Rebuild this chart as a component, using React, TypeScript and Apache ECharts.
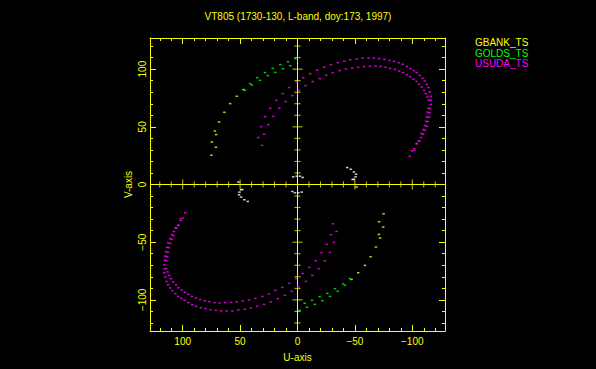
import React, { useEffect, useRef } from "react";
import * as echarts from "echarts";

const TITLE = "VT805 (1730-130, L-band, doy:173, 1997)";
const X_NAME = "U-axis";
const Y_NAME = "V-axis";
const U_MIN = -128.5;
const U_MAX = 128.5;
const V_MIN = -127;
const V_MAX = 127;
const MAJOR_TICKS = [-100, -50, 0, 50, 100];
const MINOR_TICKS = [-120, -110, -90, -80, -70, -60, -40, -30, -20, -10, 10, 20, 30, 40, 60, 70, 80, 90, 110, 120];

const LEGEND_NAMES = ["GBANK_TS", "GOLDS_TS", "USUDA_TS"];

// (u, v) samples in one half-plane; the conjugate points (-u, -v) are plotted too
const gbankUV: [number, number][] = [
  [47.1, 82.3], [52.9, 76.5], [58.7, 70.1], [63.7, 62.6], [68.3, 54.2],
  [72.0, 46.4], [70.9, 43.3], [74.6, 36.9], [71.1, 32.3], [75.0, 25.4],
];

const goldsUV: [number, number][] = [
  [45.7, 81.6], [41.3, 87.4], [39.8, 86.2], [35.0, 92.6], [32.6, 90.3],
  [28.3, 97.0], [25.9, 94.4], [21.6, 100.7], [19.3, 97.2], [15.0, 103.9],
  [12.6, 100.4], [8.3, 106.5], [6.3, 103.0], [1.9, 109.1],
];

const usudaOuterUV: [number, number][] = [
  [34.1, 40.7], [31.7, 50.2], [28.3, 58.9], [23.7, 66.1], [18.4, 73.0], [12.9, 78.8], [7.4, 84.0],
  [0.7, 88.6], [-5.0, 92.6], [-11.1, 96.1], [-17.2, 99.0], [-23.3, 101.8], [-29.1, 103.9],
  [-35.2, 105.6], [-40.7, 107.0], [-45.9, 108.2], [-51.5, 108.7], [-56.7, 109.6], [-61.9, 109.6],
  [-66.5, 109.6], [-71.1, 109.1], [-75.8, 108.5], [-80.2, 107.6], [-84.2, 106.8], [-88.3, 105.6],
  [-91.7, 104.2], [-95.2, 102.4], [-98.4, 100.4], [-101.3, 98.7], [-103.9, 97.0], [-106.5, 94.6],
  [-108.9, 92.0], [-110.9, 89.7], [-112.6, 86.8], [-114.1, 84.0], [-115.2, 80.2], [-116.1, 76.5],
  [-116.3, 73.0], [-116.1, 69.5], [-115.5, 65.8], [-115.2, 62.0], [-114.6, 58.3], [-113.7, 54.5],
  [-112.6, 50.5], [-111.1, 47.0], [-109.4, 43.5], [-107.7, 40.7], [-105.7, 37.7], [-103.9, 35.5],
  [-101.9, 29.7], [-97.8, 24.5],
];

const usudaInnerUV: [number, number][] = [
  [30.9, 34.0], [29.1, 43.5], [25.4, 51.9], [21.0, 59.1], [15.8, 66.1], [10.3, 71.9], [4.5, 77.1],
  [-1.3, 81.6], [-7.1, 85.7], [-13.2, 89.2], [-19.3, 91.8], [-25.0, 94.9], [-30.6, 97.0],
  [-36.7, 98.7], [-42.2, 100.1], [-47.7, 101.0], [-52.9, 101.6], [-57.8, 102.2], [-63.0, 102.4],
  [-68.0, 102.7], [-72.3, 102.4], [-76.7, 101.6], [-80.7, 100.7], [-84.8, 99.8], [-88.5, 98.4],
  [-92.0, 97.0], [-95.2, 95.2], [-98.1, 93.5], [-101.0, 91.4], [-103.7, 89.4], [-105.9, 87.1],
  [-108.3, 84.5], [-110.3, 81.6], [-111.7, 78.8], [-113.2, 75.8], [-114.3, 73.0], [-114.1, 66.1],
  [-113.5, 62.6], [-112.9, 58.5], [-112.0, 54.8], [-110.9, 51.1], [-109.7, 47.6], [-108.0, 44.2],
  [-106.3, 37.5], [-103.9, 35.2], [-101.6, 31.2], [-99.6, 29.1],
];

const shortUV: [number, number][] = [
  [-43.3, 14.7], [-46.3, 13.2], [-49.1, 10.9], [-50.9, 8.9], [-50.6, 6.6], [-49.1, 4.6],
  [-48.0, 4.3], [-51.5, -2.1], [3.7, 6.6], [0.7, 7.2], [-2.2, 7.2], [-4.5, 6.1],
];

const YELLOW = "#ffff00";
const GREEN = "#00ff00";
const MAGENTA = "#ff00ff";
const WHITE = "#ffffff";
const FONT = "Liberation Sans";

const withConjugate = (pts: [number, number][]) =>
  pts.concat(pts.map(([u, v]) => [-u, -v] as [number, number]));

const fmt = (v: number) => (v < 0 ? "\u2212" + Math.abs(v) : String(v));

export default function App() {
  const ref = useRef<HTMLDivElement>(null);

  useEffect(() => {
    document.body.style.margin = "0";
    document.body.style.background = "#000";
    const chart = echarts.init(ref.current!, undefined, { renderer: "svg" });

    const lineStyle = { color: YELLOW, width: 1 };
    const mkX = (position: string, ticks: number[], len: number, main: boolean, showLine: boolean) => ({
      type: "value",
      position,
      min: U_MIN,
      max: U_MAX,
      inverse: true,
      axisLine: { show: showLine, onZero: false, lineStyle },
      axisTick: { show: true, inside: true, length: len, customValues: ticks, lineStyle },
      axisLabel: main
        ? { show: true, customValues: MAJOR_TICKS, formatter: fmt, color: YELLOW, fontSize: 10, fontFamily: FONT, margin: 5 }
        : { show: false },
      splitLine: { show: false },
      ...(main
        ? { name: X_NAME, nameLocation: "middle", nameGap: 21, nameTextStyle: { color: YELLOW, fontSize: 10, fontFamily: FONT } }
        : {}),
    });
    const mkY = (position: string, ticks: number[], len: number, main: boolean, showLine: boolean) => ({
      type: "value",
      position,
      min: V_MIN,
      max: V_MAX,
      axisLine: { show: showLine, onZero: false, lineStyle },
      axisTick: { show: true, inside: true, length: len, customValues: ticks, lineStyle },
      axisLabel: main
        ? { show: true, customValues: MAJOR_TICKS, formatter: fmt, color: YELLOW, fontSize: 10, fontFamily: FONT, margin: 3, rotate: 90 }
        : { show: false },
      splitLine: { show: false },
      ...(main
        ? { name: Y_NAME, nameLocation: "middle", nameGap: 17, nameRotate: 90, nameTextStyle: { color: YELLOW, fontSize: 10, fontFamily: FONT } }
        : {}),
    });

    const pointSeries = (name: string, data: [number, number][], color: string) => ({
      type: "scatter",
      name,
      data,
      symbol: "rect",
      symbolSize: [2.5, 1.5],
      itemStyle: { color },
      xAxisIndex: 0,
      yAxisIndex: 0,
      z: 5,
      silent: true,
    });

    const tickSeries = (data: [number, number][], size: number[]) => ({
      type: "scatter",
      data,
      symbol: "rect",
      symbolSize: size,
      itemStyle: { color: YELLOW },
      xAxisIndex: 0,
      yAxisIndex: 0,
      z: 3,
      silent: true,
    });

    chart.setOption({
      animation: false,
      backgroundColor: "#000000",
      title: {
        text: TITLE,
        left: "center",
        top: 11,
        padding: 0,
        textStyle: { color: YELLOW, fontSize: 10, fontWeight: "normal", fontFamily: FONT },
      },
      legend: {
        data: [
          { name: LEGEND_NAMES[0], textStyle: { color: YELLOW } },
          { name: LEGEND_NAMES[1], textStyle: { color: GREEN } },
          { name: LEGEND_NAMES[2], textStyle: { color: MAGENTA } },
        ],
        orient: "vertical",
        left: 470,
        top: 37.5,
        padding: 0,
        itemWidth: 0,
        itemHeight: 10.5,
        itemGap: 0,
        icon: "rect",
        selectedMode: false,
        textStyle: { fontSize: 10, fontFamily: FONT, lineHeight: 10.5 },
      },
      grid: { left: 150, top: 38, width: 295, height: 293, containLabel: false },
      xAxis: [
        mkX("bottom", MAJOR_TICKS, 6, true, true),
        mkX("bottom", MINOR_TICKS, 3, false, false),
        mkX("top", MAJOR_TICKS, 6, false, true),
        mkX("top", MINOR_TICKS, 3, false, false),
      ],
      yAxis: [
        mkY("left", MAJOR_TICKS, 6, true, true),
        mkY("left", MINOR_TICKS, 3, false, false),
        mkY("right", MAJOR_TICKS, 6, false, true),
        mkY("right", MINOR_TICKS, 3, false, false),
      ],
      series: [
        {
          type: "line",
          data: [[U_MIN, 0], [U_MAX, 0]],
          symbol: "none",
          lineStyle: { color: YELLOW, width: 1 },
          xAxisIndex: 0,
          yAxisIndex: 0,
          z: 2,
          silent: true,
        },
        {
          type: "line",
          data: [[0, V_MIN], [0, V_MAX]],
          symbol: "none",
          lineStyle: { color: YELLOW, width: 1 },
          xAxisIndex: 0,
          yAxisIndex: 0,
          z: 2,
          silent: true,
        },
        tickSeries(MINOR_TICKS.map((t) => [t, 0] as [number, number]), [1, 6]),
        tickSeries(MAJOR_TICKS.filter((t) => t !== 0).map((t) => [t, 0] as [number, number]), [1, 10]),
        tickSeries(MINOR_TICKS.map((t) => [0, t] as [number, number]), [6, 1]),
        tickSeries(MAJOR_TICKS.filter((t) => t !== 0).map((t) => [0, t] as [number, number]), [10, 1]),
        pointSeries(LEGEND_NAMES[0], withConjugate(gbankUV), YELLOW),
        pointSeries(LEGEND_NAMES[1], withConjugate(goldsUV), GREEN),
        pointSeries(LEGEND_NAMES[2], withConjugate(usudaOuterUV.concat(usudaInnerUV)), MAGENTA),
        pointSeries("short", withConjugate(shortUV), WHITE),
      ],
    });

    return () => chart.dispose();
  }, []);

  return (
    <div
      ref={ref}
      style={{ position: "absolute", left: 0, top: 0, width: 596, height: 369, background: "#000" }}
    />
  );
}
